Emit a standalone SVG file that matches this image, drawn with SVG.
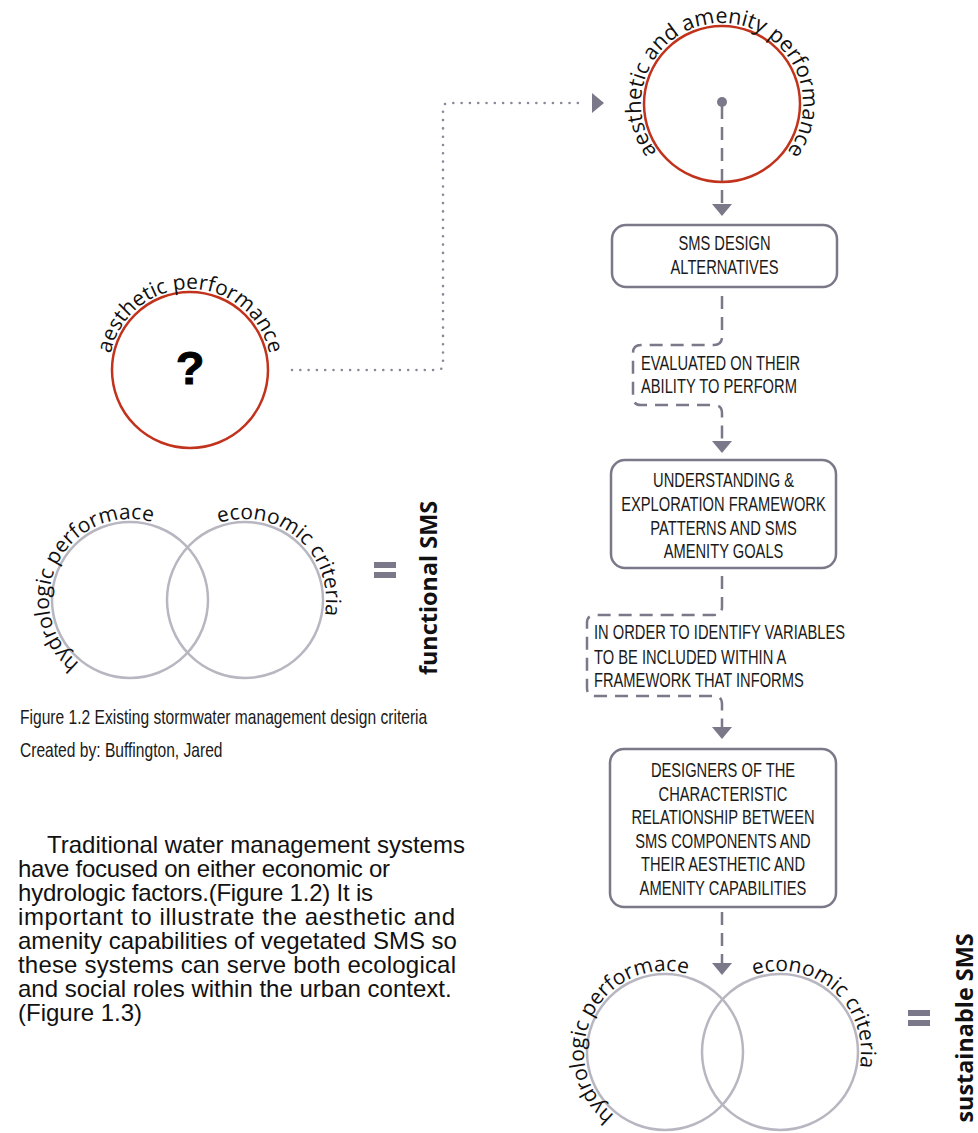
<svg xmlns="http://www.w3.org/2000/svg" width="978" height="1133" viewBox="0 0 978 1133">
<style>
.red{fill:none;stroke:#c1331c;stroke-width:2.5}
.venn{fill:none;stroke:#b8b6c0;stroke-width:2.5}
.box{fill:#fff;stroke:#7a7889;stroke-width:2.5}
.dash{fill:none;stroke:#7a7889;stroke-width:2.5;stroke-dasharray:13 8;marker-end:url(#arr)}
.dot{fill:none;stroke:#8a879a;stroke-width:2.6;stroke-linecap:round;stroke-dasharray:0 8.3}
.arc{font-family:"Open Sans","Noto Sans",sans-serif;font-size:21px;fill:#111}
.cond{font-family:"Liberation Sans",Arial,sans-serif;font-size:21px;fill:#1a1a1a}
.cap{font-family:"Liberation Sans",Arial,sans-serif;font-size:20px;fill:#1a1a1a}
.body{font-family:"Liberation Sans",Arial,sans-serif;font-size:24px;fill:#111}
.big{font-family:"Open Sans","Noto Sans",sans-serif;font-weight:700;font-size:23.4px;fill:#111}
.eq{fill:#7a7889}
</style>
<defs>
<marker id="arr" markerUnits="userSpaceOnUse" markerWidth="12" markerHeight="20" viewBox="0 0 12 20" refX="0" refY="10" orient="auto"><path d="M0,0 L12,10 L0,20 Z" fill="#7a7889"/></marker>
<marker id="arrGap" markerUnits="userSpaceOnUse" markerWidth="22" markerHeight="20" viewBox="0 0 22 20" refX="0" refY="10" orient="auto"><path d="M9,0 L21,10 L9,20 Z" fill="#7a7889"/></marker>
<path id="pTop" d="M722,185 A81,81 0 1,1 722,23 A81,81 0 1,1 722,185"/>
<path id="pLeft" d="M190,451 A81,81 0 1,1 190,289 A81,81 0 1,1 190,451"/>
<path id="pV1a" d="M130,681 A81,81 0 1,1 130,519 A81,81 0 1,1 130,681"/>
<path id="pV1b" d="M245,681 A81,81 0 1,1 245,519 A81,81 0 1,1 245,681"/>
<path id="pV2a" d="M665,1133 A81,81 0 1,1 665,971 A81,81 0 1,1 665,1133"/>
<path id="pV2b" d="M780,1133 A81,81 0 1,1 780,971 A81,81 0 1,1 780,1133"/>
</defs>
<rect width="978" height="1133" fill="#fff"/>

<g id="connectors">
<path class="dot" d="M292,370 H437 Q443,370 443,364 V109 Q443,103 449,103 H583" marker-end="url(#arrGap)"/>
<path class="dash" d="M722,106 V204"/>
<path class="dash" style="stroke-dashoffset:-8" d="M722,288 V337 Q722,345 714,345 H641 Q633,345 633,353 V397 Q633,405 641,405 H714 Q722,405 722,413 V441"/>
<path class="dash" style="stroke-dashoffset:-8" d="M722,568 V607 Q722,615 714,615 H595 Q587,615 587,623 V688 Q587,696 595,696 H714 Q722,696 722,704 V727"/>
<path class="dash" style="stroke-dashoffset:-5" d="M722,907 V963"/>
</g>

<g id="amenity-circle">
<circle class="red" cx="722" cy="104" r="78"/>
<circle cx="722" cy="102" r="5" fill="#7a7889"/>
<text class="arc" style="font-size:21.5px"><textPath href="#pTop" startOffset="50%" text-anchor="middle">aesthetic and amenity performance</textPath></text>
</g>

<g id="aesthetic-circle">
<circle class="red" cx="190" cy="370" r="78"/>
<text x="190" y="384" text-anchor="middle" style="font-family:'Liberation Sans',Arial,sans-serif;font-weight:900;font-size:47px;fill:#000;stroke:#000;stroke-width:1">?</text>
<text class="arc"><textPath href="#pLeft" startOffset="50%" text-anchor="middle">aesthetic performance</textPath></text>
</g>

<g id="venn-functional">
<circle class="venn" cx="130" cy="600" r="78"/>
<circle class="venn" cx="245" cy="600" r="78"/>
<text class="arc"><textPath href="#pV1a" startOffset="32.6%" text-anchor="middle">hydrologic performace</textPath></text>
<text class="arc"><textPath href="#pV1b" startOffset="61.4%" text-anchor="middle">economic criteria</textPath></text>
<rect class="eq" x="374" y="562" width="22" height="6"/>
<rect class="eq" x="374" y="572" width="22" height="6"/>
<text class="big" transform="translate(437 588) rotate(-90)" text-anchor="middle">functional SMS</text>
</g>

<g id="caption">
<text class="cap" transform="translate(20 724) scale(0.78 1)">Figure 1.2 Existing stormwater management design criteria</text>
<text class="cap" transform="translate(20 757) scale(0.78 1)">Created by: Buffington, Jared</text>
</g>

<g id="paragraph">
<text class="body" x="47" y="853">Traditional water management systems</text>
<text class="body" x="18" y="877" textLength="372" lengthAdjust="spacing">have focused on either economic or</text>
<text class="body" x="18" y="901" textLength="355" lengthAdjust="spacing">hydrologic factors.(Figure 1.2) It is</text>
<text class="body" x="18" y="925" textLength="437" lengthAdjust="spacing">important to illustrate the aesthetic and</text>
<text class="body" x="18" y="949">amenity capabilities of vegetated SMS so</text>
<text class="body" x="18" y="973" textLength="438" lengthAdjust="spacing">these systems can serve both ecological</text>
<text class="body" x="18" y="997">and social roles within the urban context.</text>
<text class="body" x="18" y="1021">(Figure 1.3)</text>
</g>

<g id="box-alternatives">
<rect class="box" x="612" y="225" width="225" height="62" rx="14"/>
<text class="cond" transform="translate(724.5 250) scale(0.7 1)" text-anchor="middle">SMS DESIGN</text>
<text class="cond" transform="translate(724.5 274) scale(0.7 1)" text-anchor="middle">ALTERNATIVES</text>
</g>

<g id="label-evaluated">
<text class="cond" transform="translate(641 370) scale(0.7 1)">EVALUATED ON THEIR</text>
<text class="cond" transform="translate(641 393) scale(0.7 1)">ABILITY TO PERFORM</text>
</g>

<g id="box-understanding">
<rect class="box" x="611" y="460" width="225" height="108" rx="14"/>
<text class="cond" transform="translate(723.5 487) scale(0.7 1)" text-anchor="middle">UNDERSTANDING &amp;</text>
<text class="cond" transform="translate(723.5 511) scale(0.7 1)" text-anchor="middle">EXPLORATION FRAMEWORK</text>
<text class="cond" transform="translate(723.5 535) scale(0.7 1)" text-anchor="middle">PATTERNS AND SMS</text>
<text class="cond" transform="translate(723.5 558) scale(0.7 1)" text-anchor="middle">AMENITY GOALS</text>
</g>

<g id="label-identify">
<text class="cond" transform="translate(594 639) scale(0.7 1)">IN ORDER TO IDENTIFY VARIABLES</text>
<text class="cond" transform="translate(594 664) scale(0.7 1)">TO BE INCLUDED WITHIN A</text>
<text class="cond" transform="translate(594 687) scale(0.7 1)">FRAMEWORK THAT INFORMS</text>
</g>

<g id="box-designers">
<rect class="box" x="610" y="749" width="226" height="158" rx="14"/>
<text class="cond" transform="translate(723 777) scale(0.7 1)" text-anchor="middle">DESIGNERS OF THE</text>
<text class="cond" transform="translate(723 801) scale(0.7 1)" text-anchor="middle">CHARACTERISTIC</text>
<text class="cond" transform="translate(723 824) scale(0.7 1)" text-anchor="middle">RELATIONSHIP BETWEEN</text>
<text class="cond" transform="translate(723 848) scale(0.7 1)" text-anchor="middle">SMS COMPONENTS AND</text>
<text class="cond" transform="translate(723 871) scale(0.7 1)" text-anchor="middle">THEIR AESTHETIC AND</text>
<text class="cond" transform="translate(723 895) scale(0.7 1)" text-anchor="middle">AMENITY CAPABILITIES</text>
</g>

<g id="venn-sustainable">
<circle class="venn" cx="665" cy="1052" r="78"/>
<circle class="venn" cx="780" cy="1052" r="78"/>
<text class="arc"><textPath href="#pV2a" startOffset="32.6%" text-anchor="middle">hydrologic performace</textPath></text>
<text class="arc"><textPath href="#pV2b" startOffset="61.4%" text-anchor="middle">economic criteria</textPath></text>
<rect class="eq" x="908" y="1010" width="22" height="6"/>
<rect class="eq" x="908" y="1020" width="22" height="6"/>
<text class="big" transform="translate(973 1028) rotate(-90)" text-anchor="middle">sustainable SMS</text>
</g>
</svg>
